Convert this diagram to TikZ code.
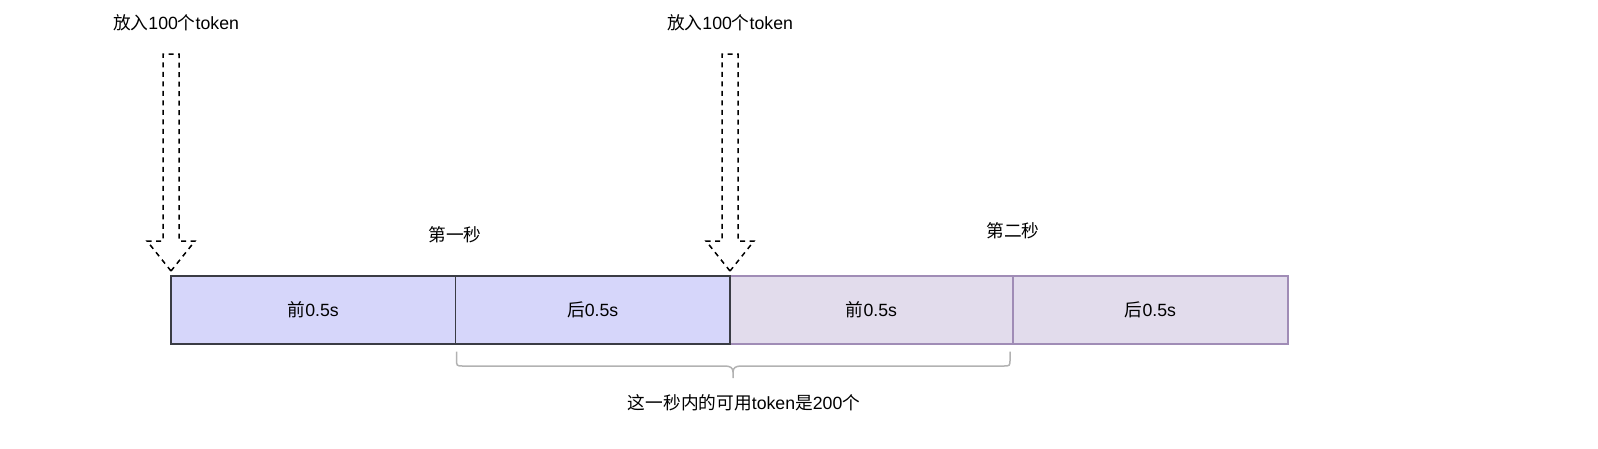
\documentclass[tikz,border=0pt]{standalone}
\usepackage{fontspec}
\setmainfont{Liberation Sans}
\newfontfamily\cjk{Noto Sans CJK SC}
\newcommand{\zh}[1]{{\cjk #1}}
\usepackage{tikz}
\usetikzlibrary{positioning,calc}

\definecolor{secAfill}{RGB}{214,214,250}
\definecolor{secAline}{RGB}{58,60,68}
\definecolor{secBfill}{RGB}{226,220,236}
\definecolor{secBline}{RGB}{160,140,182}
\definecolor{braceline}{RGB}{178,178,178}

\tikzset{
  lbl/.style={font=\fontsize{17.7pt}{21pt}\selectfont, inner sep=0pt},
  halfsec/.style={lbl, minimum height=68pt, outer sep=0pt, line width=1.5pt, anchor=north west},
  firstsec/.style={halfsec, draw=secAline, fill=secAfill},
  secondsec/.style={halfsec, draw=secBline, fill=secBfill},
  droparrow/.style={draw=black, line width=1.5pt, dash pattern=on 5pt off 4.5pt, line join=miter},
  bracket/.style={draw=braceline, line width=1.5pt},
}

\begin{document}
\begin{tikzpicture}[x=1pt,y=-1pt]
\useasboundingbox (0,0) rectangle (1598,448);
% the two seconds, split into halves
\node[firstsec, minimum width=284.5pt] (a1) at (171,276) {\zh{前}0.5s};
\node[firstsec, minimum width=274.5pt] (a2) at (a1.north east) {\zh{后}0.5s};
\node[secondsec, minimum width=283pt] (b1) at (a2.north east) {\zh{前}0.5s};
\node[secondsec, minimum width=275pt] (b2) at (b1.north east) {\zh{后}0.5s};
\draw[secAline, line width=1.5pt] (a1.north west) rectangle (a2.south east);
\draw[secAline, line width=1.5pt] (a1.north east) -- (a1.south east);
% second titles
\node[lbl] (t1) at (455,235) {\zh{第一秒}};
\node[lbl] (t2) at (1013,231) {\zh{第二秒}};
% token drops (dashed block arrows)
\coordinate (tipA) at ([yshift=5pt]a1.north west);
\coordinate (tipB) at ([yshift=5pt]a2.north east);
\foreach \tip in {tipA,tipB}
  \draw[droparrow] (\tip) -- ++(-24,-30) -- ++(16,0) -- ++(0,-187) -- ++(16,0)
    -- ++(0,187) -- ++(16,0) -- cycle;
\node[lbl] (putA) at (176,22.4) {\zh{放入}100\zh{个}token};
\node[lbl] (putB) at (730,22.4) {\zh{放入}100\zh{个}token};
% brace under the window
\coordinate (brL) at (456.5,351.7);
\coordinate (brR) at (1010,351.7);
\coordinate (brT) at (733,378);
\draw[bracket] (brL) -- (456.5,359) .. controls (456.5,366) .. (463.5,366) -- (725,366)
  .. controls (730.5,366) and (733,368) .. (733,372) -- (brT);
\draw[bracket] (brR) -- (1010,359) .. controls (1010,366) .. (1003,366) -- (741,366)
  .. controls (735.5,366) and (733,368) .. (733,372);
\node[lbl] (win) at (744,402.7) {\zh{这一秒内的可用}token\zh{是}200\zh{个}};
\end{tikzpicture}
\end{document}
